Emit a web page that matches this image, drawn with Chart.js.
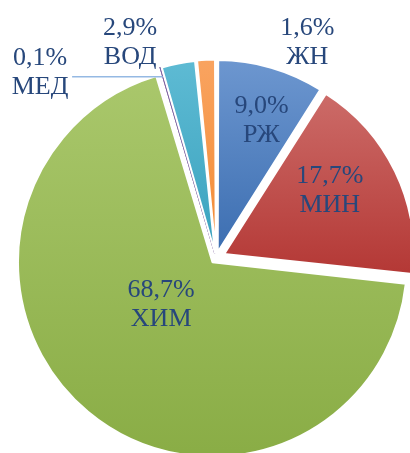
<!DOCTYPE html>
<html>
<head>
<meta charset="utf-8">
<script src="https://cdn.jsdelivr.net/npm/chart.js@4"></script>
<style>
  html, body { margin: 0; padding: 0; background: #fff; overflow: hidden; }
  #wrap { width: 410px; height: 453px; position: relative; }
</style>
</head>
<body>
<div id="wrap"><canvas id="pie"></canvas></div>
<script>
// доли по отраслям, %
const LABELS = ['РЖ', 'МИН', 'ХИМ', 'МЕД', 'ВОД', 'ЖН'];
const VALUES = [9.0, 17.7, 68.7, 0.1, 2.9, 1.6];

// цвета (верх / низ градиента)
const TOP_COL = ['#6c96cf', '#cc6b68', '#a9c76b', '#8064a2', '#5dbad3', '#f9a35f'];
const BOT_COL = ['#3c6eb1', '#b43835', '#8aad46', '#8064a2', '#3aa2be', '#f38a33'];

// где ставить подписи: сдвиг угла (град.) и доля радиуса
const LABEL_PLACE = [
  { da: 2, k: 0.77 },
  { da: -5, k: 0.70 },
  { da: 10, k: 0.38 },
  { da: -27, k: 1.355 },
  { da: -10.7, k: 1.23 },
  { da: 25.8, k: 1.24 }
];

const fmt = v => v.toFixed(1).replace('.', ',') + '%';

const gradientPlugin = {
  id: 'gradients',
  beforeDatasetsDraw(chart) {
    const ctx = chart.ctx;
    chart.getDatasetMeta(0).data.forEach((arc, i) => {
      const p = arc.getProps(['x', 'y', 'startAngle', 'endAngle', 'outerRadius']);
      let ymin = p.y, ymax = p.y;
      for (let s = 0; s <= 40; s++) {
        const a = p.startAngle + (p.endAngle - p.startAngle) * s / 40;
        const y = p.y + Math.sin(a) * p.outerRadius;
        ymin = Math.min(ymin, y);
        ymax = Math.max(ymax, y);
      }
      const g = ctx.createLinearGradient(0, ymin, 0, ymax);
      g.addColorStop(0, TOP_COL[i]);
      g.addColorStop(1, BOT_COL[i]);
      arc.options = Object.assign({}, arc.options, { backgroundColor: g });
    });
  }
};

const labelPlugin = {
  id: 'sliceLabels',
  afterDatasetsDraw(chart) {
    const ctx = chart.ctx;
    const area = chart.chartArea;
    const cx = (area.left + area.right) / 2;
    const cy = (area.top + area.bottom) / 2;
    ctx.save();
    ctx.font = '26px "Liberation Serif", "Times New Roman", serif';
    ctx.fillStyle = '#27477b';
    ctx.textAlign = 'center';
    ctx.textBaseline = 'middle';
    chart.getDatasetMeta(0).data.forEach((arc, i) => {
      const p = arc.getProps(['x', 'y', 'startAngle', 'endAngle', 'outerRadius']);
      const mid = (p.startAngle + p.endAngle) / 2;
      const a = mid + LABEL_PLACE[i].da * Math.PI / 180;
      const r = p.outerRadius * LABEL_PLACE[i].k;
      const lx = cx + Math.cos(a) * r;
      const ly = cy + Math.sin(a) * r;
      // выноска для крошечного сектора
      if (VALUES[i] < 0.5) {
        const ex = p.x + Math.cos(mid) * p.outerRadius;
        const ey = p.y + Math.sin(mid) * p.outerRadius;
        ctx.strokeStyle = '#95b9e3';
        ctx.lineWidth = 1.5;
        ctx.beginPath();
        ctx.moveTo(lx + 32, ey);
        ctx.lineTo(ex, ey);
        ctx.stroke();
      }
      ctx.fillText(fmt(VALUES[i]), lx, ly - 14);
      ctx.fillText(LABELS[i], lx, ly + 15);
    });
    ctx.restore();
  }
};

new Chart(document.getElementById('pie'), {
  type: 'pie',
  data: {
    labels: LABELS,
    datasets: [{
      data: VALUES,
      backgroundColor: TOP_COL,
      borderColor: ['#fff', '#fff', '#fff', '#8064a2', '#fff', '#fff'],
      borderWidth: [2, 2, 2, 1, 2, 2],
      offset: [25, 36, 22, 20, 20, 20],
      clip: false
    }]
  },
  options: {
    responsive: true,
    maintainAspectRatio: false,
    animation: false,
    radius: 189,
    layout: { padding: { left: 22, right: 0, top: 63, bottom: 0 } },
    plugins: {
      legend: { display: false },
      tooltip: { enabled: false }
    }
  },
  plugins: [gradientPlugin, labelPlugin]
});
</script>
</body>
</html>
